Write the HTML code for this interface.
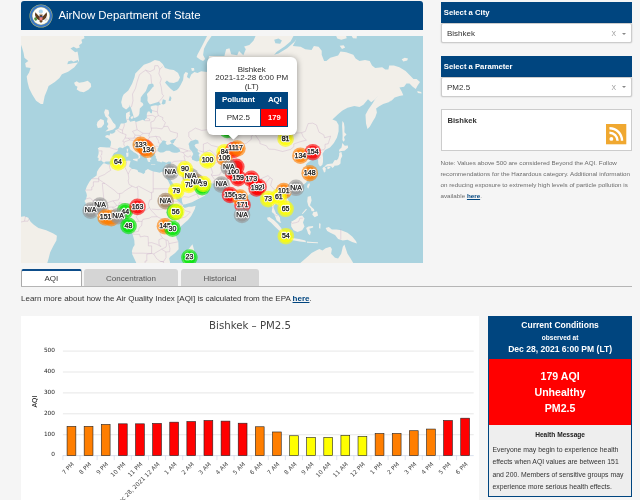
<!DOCTYPE html>
<html><head><meta charset="utf-8"><title>AirNow Department of State</title>
<style>
html,body{margin:0;padding:0}
body{width:640px;height:500px;overflow:hidden;background:#f5f5f5;font-family:"Liberation Sans",Arial,sans-serif;position:relative;color:#333}
.abs{position:absolute}
#hdr{left:21px;top:1.3px;width:402px;height:28.7px;background:#00457f;border-radius:3px 3px 0 0;color:#fff}
#hdr .t{position:absolute;left:37.4px;top:7.6px;font-size:11.43px;line-height:13px;white-space:nowrap}
#map{left:21px;top:36px;width:402px;height:227px;overflow:hidden;background:#aad3df}
#map svg text{font-family:"Liberation Sans",Arial,sans-serif;font-size:7px;text-anchor:middle;fill:#111;stroke:#111;stroke-width:.25px}
#map svg text.h{fill:#fff;stroke:#fff;stroke-width:2.3px;stroke-linejoin:round;opacity:.95}
#pop{left:206.5px;top:57px;width:90.5px;height:77.8px;background:#fff;border-radius:6px;box-shadow:0 1.4px 6px rgba(0,0,0,.4);font-size:8px;line-height:8.7px;text-align:center;color:#2a2a2a}
.sel-h{background:#00457f;color:#fff;font-weight:bold;font-size:7.7px;line-height:21.2px;padding-left:3.3px;box-sizing:border-box}
.sel-b{background:#fff;border:.5px solid #ccc;border-radius:2px;box-sizing:border-box;font-size:8px;line-height:20px;padding-left:5.5px;color:#333;box-shadow:0 0 1.5px rgba(0,0,0,.25)}
.sel-b .x{position:absolute;left:169.9px;top:0;font-size:6.8px;color:#999}
.sel-b .c{position:absolute;left:180.1px;top:8.7px;width:0;height:0;border-left:2.8px solid transparent;border-right:2.8px solid transparent;border-top:2.4px solid #888}
.tab{top:269px;height:17.5px;box-sizing:border-box;font-size:8px;line-height:19.5px;text-align:center;color:#555;background:#d5d5d5;border-radius:3px 3px 0 0}
</style></head><body>

<div id="hdr" class="abs">
<svg class="abs" style="left:8px;top:2.4px" width="24" height="24" viewBox="0 0 24 24">
<circle cx="12" cy="12" r="11.5" fill="#b5bb74"/><circle cx="12" cy="12" r="11" fill="#3a78c6"/>
<circle cx="12" cy="12" r="8.9" fill="#c4c68c"/><circle cx="12" cy="12" r="8.4" fill="#fdfdfb"/>
<circle cx="11.8" cy="7.6" r="2.1" fill="#a8d2ea"/>
<path d="M11.2 13.5L6.3 8.2l-.3 2.9 1 2.7 2 2 2.2.4zM12.8 13.5l4.9-5.3.3 2.9-1 2.7-2 2-2.2.4z" fill="#5d3c1c"/>
<path d="M10.6 10.2h2.8v7.2l-1.4 1.6-1.4-1.6z" fill="#6b4826"/>
<rect x="10.5" y="12.2" width="3" height="1.1" fill="#27458f"/><path d="M10.5 13.3h3v2.2l-1.5 1.2-1.5-1.2z" fill="#ec8080"/>
<circle cx="12" cy="9.8" r="1" fill="#e8e4d6"/>
<ellipse cx="6.6" cy="15" rx="1.3" ry="1.7" fill="#4f8f3c" transform="rotate(-30 6.6 15)"/>
<path d="M15.6 15.8l2.6-2.2M16 16.6l2.8-1.6" stroke="#999" stroke-width=".5"/>
</svg>
<div class="t">AirNow Department of State</div>
</div>

<div id="map" class="abs">
<svg width="402" height="227" viewBox="0 0 402 227" style="position:absolute;left:0;top:0">
<defs><filter id="bl" x="-5%" y="-5%" width="110%" height="110%"><feGaussianBlur stdDeviation=".45"/></filter></defs>
<g filter="url(#bl)">
<rect x="-5" y="-5" width="412" height="237" fill="#aad3df"/>
<path d="M-1.3,-0.9L62.8,-0.9L63.5,2.2L60.4,3.8L61.2,6.9L58.1,9.3L58.8,11.6L55.7,12.4L52.6,10.8L49.5,12.4L54.2,16.3L56.5,15.5L57.3,19.4L58.1,24.9L56.5,27.2L53.4,31.2L47.1,35.8L40.9,38.2L38.5,42.1L33.8,46.0L27.6,49.9L26.0,54.6L23.7,60.1L22.1,67.9L19.8,67.9L15.1,64.8L11.2,58.5L8.1,52.2L6.5,46.0L5.7,40.5L8.1,36.6L9.6,31.9L4.9,31.2L4.2,27.2L7.3,24.9L3.4,21.8L2.6,17.1L1.0,11.6L-1.3,5.4Z M53.1,46.8L55.7,45.2L58.1,46.8L62.8,46.0L66.7,44.8L69.8,47.6L70.2,50.7L67.4,53.8L62.8,56.2L58.8,55.4L55.7,53.5L56.5,50.7L54.2,49.4Z M84.3,73.2L87.4,74.0L88.2,77.1L87.4,79.5L89.8,82.6L92.1,86.5L94.5,88.8L94.8,91.2L92.1,93.5L87.4,95.1L84.3,95.6L87.4,92.8L85.9,90.4L87.4,88.1L85.9,85.7L86.7,82.6L84.3,80.2L83.1,76.3Z M76.5,85.7L79.6,83.1L82.8,84.2L83.1,88.1L80.4,91.5L76.8,92.0L75.7,88.8Z M-1.3,181.0L3.4,180.2L7.3,181.8L9.6,185.7L12.8,188.8L17.4,192.0L25.2,194.3L32.3,197.4L35.9,199.8L35.4,204.5L32.3,209.9L29.2,216.2L27.6,222.4L26.0,227.9L-1.3,227.9Z M105.4,73.7L101.5,70.9L100.2,66.2L101.5,60.7L102.6,58.5L107.3,54.6L111.2,47.6L113.5,41.3L114.3,37.4L119.0,32.7L122.9,28.8L129.2,26.5L133.8,24.1L138.5,24.9L141.7,28.0L144.0,31.9L148.7,33.5L152.8,34.0L157.1,37.1L159.0,41.5L157.1,45.2L152.8,47.1L148.4,46.5L145.9,44.6L144.0,46.5L146.5,49.6L149.6,52.8L152.8,55.2L155.9,54.0L157.8,52.1L159.6,49.0L162.1,44.0L162.8,38.4L164.6,35.9L167.1,37.1L165.9,40.9L168.4,42.8L170.2,38.4L173.4,35.9L176.5,37.1L180.2,35.2L185.9,35.9L188.0,20.0L203.4,20.1L205.1,13.2L208.5,12.3L210.2,18.3L216.2,19.2L218.0,14.9L222.3,19.2L224.8,13.2L223.1,10.6L228.3,8.9L232.6,4.6L235.2,-1.4L276.5,-1.7L274.2,5.4L271.8,10.1L279.6,10.8L284.3,13.2L290.6,14.0L292.9,10.1L297.6,10.8L300.7,14.8L300.7,18.7L303.1,24.9L305.4,24.9L309.3,21.8L317.1,19.4L319.5,15.5L325.2,16.3L332.3,18.7L334.6,22.6L338.5,24.9L344.0,24.1L348.7,24.9L351.0,29.6L354.2,31.9L361.2,31.2L364.3,33.5L367.4,33.5L368.2,29.6L372.9,29.6L378.4,31.2L384.6,35.1L389.3,39.8L392.4,42.9L395.6,42.9L399.0,46.0L396.3,49.9L394.8,53.0L391.7,50.7L388.5,47.6L385.4,47.6L383.1,50.7L378.4,51.5L380.7,55.4L382.3,59.3L378.4,60.1L373.7,61.6L369.0,66.3L370.8,64.0L367.6,66.3L362.2,67.9L358.2,70.2L355.1,72.6L355.9,76.5L354.3,81.2L352.0,85.1L348.9,90.6L346.5,92.9L345.0,87.4L344.5,78.8L347.3,73.4L351.2,67.9L353.6,64.0L357.3,59.3L354.0,63.2L350.3,66.3L347.0,63.2L342.4,68.7L338.5,71.0L333.3,70.0L326.5,71.8L321.5,74.5L317.3,78.0L311.4,83.5L315.3,85.1L317.6,89.0L317.6,95.3L316.0,101.5L312.9,107.0L309.0,111.5L304.0,114.0L301.5,117.8L302.0,121.5L302.0,126.0L301.3,129.0L299.0,130.6L297.3,128.0L297.0,123.4L295.5,120.0L292.8,119.1L289.4,117.9L287.8,121.0L288.8,117.2L285.0,119.3L282.3,121.2L283.9,123.8L287.1,123.4L289.9,124.6L286.6,126.8L284.7,129.0L287.3,133.2L288.9,136.6L288.8,139.8L287.0,142.5L285.2,146.5L282.6,148.6L280.5,150.7L276.5,152.3L272.9,153.3L270.5,154.1L270.0,155.7L269.2,153.6L266.9,153.5L264.3,155.3L262.9,157.9L264.0,160.4L266.8,162.9L268.4,167.1L268.4,169.9L264.8,172.2L261.6,174.9L261.3,172.8L258.4,171.2L257.5,169.5L255.0,167.2L253.5,168.7L252.7,172.0L254.1,175.2L255.1,177.8L257.2,179.0L259.0,181.7L259.2,184.9L260.3,186.7L258.8,186.7L255.6,184.3L254.1,180.2L253.2,178.0L250.8,176.0L251.1,172.8L251.2,169.5L249.8,164.6L249.5,162.1L247.0,162.1L245.9,163.3L244.3,162.9L244.6,159.9L243.0,157.1L240.9,154.8L240.2,152.3L238.1,152.8L235.7,153.3L232.5,154.0L231.7,156.2L229.2,157.4L224.9,161.8L221.5,163.8L221.6,167.6L220.8,171.2L219.9,173.9L218.2,174.8L217.1,175.9L215.2,173.0L213.1,168.7L211.5,164.6L209.8,160.4L209.5,157.9L209.4,154.5L209.0,152.4L208.2,154.5L206.3,154.8L203.4,152.3L205.5,151.0L202.6,150.2L200.5,147.9L199.3,146.8L195.3,147.0L191.2,147.4L187.2,146.8L184.5,146.1L183.6,143.8L179.9,144.7L176.7,142.9L173.9,140.3L172.6,138.1L170.7,137.9L169.4,138.5L170.2,141.3L172.6,144.5L173.0,146.3L174.6,145.6L175.2,147.5L176.7,148.9L179.1,149.1L182.4,146.6L183.0,145.2L183.3,148.4L186.6,150.0L188.5,151.9L186.9,155.3L185.1,157.9L184.0,159.6L180.7,161.3L176.2,163.6L171.0,166.3L164.6,168.2L162.1,168.4L161.0,165.4L160.8,162.3L158.1,157.9L155.2,153.6L153.2,149.3L150.8,145.8L148.4,142.2L148.2,139.4L147.1,142.5L145.2,140.3L144.4,138.5L144.5,140.3L146.1,143.1L147.6,145.8L149.2,149.3L151.6,153.6L152.1,157.1L154.1,159.6L155.7,163.8L158.4,166.3L161.7,168.7L161.8,170.4L163.8,172.0L167.8,170.8L171.0,170.7L174.6,169.7L173.9,172.8L172.3,176.0L170.2,180.1L167.0,184.1L163.8,186.8L160.5,189.7L158.1,192.1L156.5,194.5L155.7,196.9L154.9,199.3L155.7,202.6L157.3,205.8L157.5,209.9L157.6,213.2L154.1,217.0L149.2,220.7L148.1,222.5L149.0,225.9L149.2,232.0L115.2,232.0L115.2,226.8L113.6,223.3L111.2,218.2L110.9,214.9L112.0,211.5L113.6,209.1L113.3,204.2L111.7,198.7L110.9,196.6L107.8,192.9L106.0,190.0L107.2,188.1L107.5,185.2L107.5,182.6L105.5,181.7L103.1,181.8L101.5,182.0L99.1,178.8L97.3,178.6L93.7,179.1L90.2,180.6L88.6,181.2L85.3,180.6L79.7,181.8L77.2,180.9L74.3,178.8L71.6,176.9L70.3,174.4L67.5,171.2L65.0,168.7L64.6,167.1L63.5,165.1L65.1,162.9L65.9,159.6L65.4,157.1L64.3,154.5L65.9,150.2L68.4,145.8L70.8,142.7L73.2,141.3L75.6,139.4L76.0,135.7L78.1,132.3L82.1,127.4L83.2,127.2L86.9,128.4L90.2,128.4L91.8,127.2L96.7,125.4L99.9,125.4L104.4,125.0L107.6,124.4L109.6,125.0L108.9,127.4L108.0,130.4L109.3,131.5L111.2,133.1L113.1,133.1L116.4,134.0L117.3,136.1L120.1,136.8L122.5,137.9L124.1,136.6L124.1,134.8L126.9,133.1L129.3,134.2L132.2,135.5L135.5,136.1L138.7,136.8L140.3,136.1L141.9,135.5L144.0,136.1L146.5,136.5L147.3,136.1L148.1,134.4L148.4,132.9L149.2,131.1L149.7,129.0L149.9,127.0L150.3,125.8L149.2,125.8L147.7,125.4L145.2,126.8L143.5,126.0L141.4,125.4L140.3,126.6L138.7,125.8L137.1,125.6L135.9,125.0L135.8,123.0L134.7,122.0L135.1,120.4L134.2,119.9L134.3,118.7L133.8,117.2L131.4,117.0L130.6,118.7L128.8,117.9L128.3,119.9L129.0,121.0L130.6,123.0L129.0,124.0L129.2,126.0L128.0,126.0L126.9,125.4L126.2,123.4L125.9,122.4L125.3,121.2L124.1,119.5L123.2,117.9L123.3,115.7L122.8,114.7L121.7,113.6L119.3,112.0L117.7,111.2L116.4,109.8L115.2,107.6L114.1,108.3L113.8,106.7L111.7,107.4L111.9,109.6L113.8,111.4L114.8,113.6L117.8,114.9L119.1,116.6L121.7,118.9L119.6,118.1L118.6,119.5L119.5,121.0L118.5,122.4L117.2,123.1L117.3,122.0L117.7,121.0L117.2,118.9L116.1,118.3L114.9,117.2L112.8,116.2L111.5,115.1L109.6,113.8L108.8,112.5L108.3,110.5L106.4,109.4L104.7,110.5L103.6,110.9L101.5,112.3L99.9,111.6L98.3,111.4L96.8,112.5L97.0,114.0L96.7,115.1L95.4,115.9L93.1,117.0L91.3,119.9L92.1,121.4L90.8,123.0L90.5,123.8L88.6,125.4L84.7,125.6L83.1,126.8L81.6,125.8L80.5,124.6L77.4,125.0L77.6,122.0L76.4,121.4L77.4,118.5L77.7,116.4L77.4,113.6L76.8,112.3L78.9,110.9L82.9,111.2L85.7,111.4L88.9,111.6L89.7,109.2L90.0,106.7L89.9,105.3L88.2,103.2L86.9,102.0L84.7,101.5L84.2,100.1L86.1,99.1L88.6,99.6L89.2,97.2L90.0,97.7L92.0,97.4L94.2,95.9L94.4,93.9L97.0,92.9L98.3,91.3L99.2,89.0L99.9,87.6L103.1,87.4L105.5,86.6L106.0,85.2L105.2,83.0L104.9,80.2L105.1,77.3L107.6,75.8L108.9,75.2Z" fill="#f2efe9"/>
<path d="M57.8,26.5L51.8,27.2L46.3,28.3L47.1,25.4L50.2,24.4L52.6,25.7L56.8,24.1Z M108.9,75.2L108.6,78.7L109.4,79.6L108.0,81.6L107.6,83.6L109.3,85.8L111.2,85.2L113.6,84.7L114.8,86.0L118.0,84.9L121.7,83.8L123.8,84.7L124.1,83.3L125.8,81.9L125.8,77.9L126.7,75.8L128.3,75.2L129.8,77.3L130.8,77.3L131.3,74.3L129.8,72.5L129.6,70.6L131.7,69.7L134.7,69.3L137.1,69.7L140.0,68.2L138.7,67.1L138.2,65.8L135.5,66.5L132.2,67.4L129.0,68.4L127.4,66.8L126.4,64.8L126.6,61.5L125.9,58.0L128.7,55.1L131.4,51.4L132.9,50.3L132.2,48.0L130.8,47.6L127.4,48.4L126.2,51.4L124.9,55.1L121.7,58.7L119.8,61.5L119.6,64.8L119.6,65.8L121.7,67.1L122.4,69.0L121.1,70.3L118.8,72.5L118.5,75.8L118.3,78.1L117.3,79.9L114.9,81.6L112.8,81.9L112.3,79.6L111.2,75.8L109.9,71.8L109.1,70.3L108.9,68.4L108.5,70.6L107.2,71.8L104.7,74.0L103.1,74.3L105.5,75.5Z M137.1,115.3L136.4,113.1L138.0,110.7L138.2,108.7L139.8,107.4L141.6,104.6L143.2,104.4L145.6,105.5L144.5,107.1L146.0,108.9L148.1,108.5L150.8,107.6L148.9,105.1L152.4,103.2L155.2,103.0L153.6,105.1L152.8,106.9L151.3,107.4L152.0,108.3L153.2,109.2L156.0,111.2L158.1,112.7L159.1,114.2L158.9,115.7L156.0,116.8L153.2,116.8L150.8,116.2L148.4,114.7L145.2,114.7L142.7,116.2L141.1,116.6L139.0,116.4Z M168.6,112.9L168.1,109.8L167.5,108.0L169.4,105.3L171.8,104.4L174.6,103.4L177.2,104.4L177.8,107.4L174.8,108.0L173.5,109.2L174.6,111.4L176.9,113.6L176.7,115.7L178.8,117.2L177.5,118.9L178.3,120.6L179.0,124.4L175.9,125.4L173.1,124.4L171.0,123.4L171.0,120.6L172.3,117.9L170.7,115.1Z M278.1,-1.4L273.8,5.5L266.1,12.3L257.5,17.5L253.2,18.7L255.8,15.8L263.5,10.6L269.5,5.5L273.3,-1.4Z M253.2,3.7L257.5,2.5L260.9,4.6L259.2,7.7L254.4,7.3Z M140.6,68.1L141.9,63.2L144.8,64.2L144.4,67.4L142.7,68.4Z M147.6,64.8L148.9,59.7L150.5,62.1L149.7,65.1Z" fill="#aad3df"/>
<path d="M109.6,81.0L111.7,79.9L112.2,81.3L111.2,83.0L109.9,82.4Z M318.7,116.4L320.4,115.9L321.3,119.9L319.8,123.0L319.6,125.2L319.5,127.6L317.9,129.0L316.2,129.6L313.3,129.8L313.2,130.4L311.4,131.9L310.3,130.4L308.5,130.0L306.1,130.6L303.6,130.9L303.6,130.2L306.1,128.2L309.0,127.8L311.6,127.6L312.8,125.4L313.8,124.0L315.8,124.2L317.2,122.6L318.2,119.3L318.2,117.0Z M303.6,131.1L304.9,132.5L304.3,135.9L303.0,136.6L302.3,134.6L301.4,132.5L302.5,131.1Z M305.9,131.7L307.8,130.4L309.6,131.1L308.8,132.3L306.9,133.2Z M318.7,115.7L320.1,115.1L323.4,114.7L327.1,111.8L326.8,109.6L323.8,109.8L321.3,106.9L320.8,110.3L320.3,112.0L318.7,112.9L317.9,114.7Z M321.4,84.9L322.9,87.1L323.5,91.1L323.4,96.2L325.5,98.6L323.0,101.1L323.8,103.9L322.5,105.7L321.4,103.9L321.6,99.8L321.4,94.9L321.1,89.8Z M288.3,147.0L288.9,148.4L287.3,152.8L286.0,151.0L286.6,148.4Z M267.6,157.4L270.2,156.0L271.3,156.7L270.2,158.7L268.1,159.1Z M221.0,173.3L223.1,175.2L224.1,177.3L222.8,179.1L221.3,179.3L220.7,176.0Z M187.1,-2.2L182.8,6.5L179.6,12.8L176.5,18.4L175.6,20.9L179.0,23.4L182.1,24.9L184.2,23.0L182.1,19.0L183.0,12.8L186.2,6.5L189.6,1.5L192.1,-2.2Z M170.2,32.1L173.0,32.1L173.4,34.6L170.9,35.0Z M246.0,181.8L248.4,181.0L253.1,184.2L257.0,188.1L260.1,192.0L262.4,196.7L260.9,197.8L257.8,194.3L253.8,190.4L249.9,186.5L246.8,184.2Z M270.2,185.7L274.2,183.4L278.1,180.2L281.2,179.5L283.5,182.6L282.0,186.5L283.5,190.4L281.2,194.3L276.5,195.9L272.6,194.3L270.2,190.4Z M285.1,192.0L287.4,190.4L292.1,189.9L292.1,191.5L288.2,192.8L289.8,195.9L289.0,199.3L287.1,197.8L286.3,195.1Z M269.5,201.8L278.1,202.9L284.3,204.5L285.1,206.2L278.8,205.6L270.2,204.0Z M285.9,205.6L291.3,205.9L296.8,206.2L297.1,207.3L291.3,207.1L285.9,206.8Z M286.7,160.7L289.8,159.9L290.6,164.6L289.0,169.3L292.1,172.4L290.9,173.5L287.4,170.1L286.2,165.4Z M292.1,176.3L296.0,175.6L297.1,179.5L293.7,181.3L291.3,178.7Z M289.8,172.4L292.9,172.8L293.4,175.2L290.6,175.2Z M280.9,177.4L285.1,172.8L285.9,173.4L281.7,178.1Z M304.6,192.0L307.8,190.9L310.9,193.5L315.6,193.5L320.2,194.3L326.5,196.7L331.2,200.6L335.1,205.2L335.9,207.6L331.2,206.0L326.5,203.7L321.8,204.5L317.1,202.9L314.0,199.0L309.3,196.7L306.2,195.1Z M298.1,187.3L299.6,187.8L299.3,192.8L298.1,192.0Z M278.1,227.9L282.8,224.0L287.4,220.1L290.6,217.0L295.2,214.6L298.4,213.1L301.5,214.6L304.6,212.3L309.3,210.7L310.9,213.1L310.1,217.8L314.0,221.7L317.1,222.4L320.2,217.8L321.8,210.7L323.4,208.4L324.9,213.1L326.5,217.8L329.6,222.4L332.8,227.9Z M171.5,208.3L173.1,214.0L171.8,217.4L170.2,223.3L168.6,231.2L162.9,231.2L162.1,225.0L163.4,220.7L163.4,215.4L167.0,214.0L169.4,210.7Z M111.9,123.0L116.9,122.6L116.4,125.6L112.2,124.0Z M105.1,116.8L107.5,116.6L107.3,120.6L105.5,121.0Z M105.7,112.7L107.2,112.7L107.0,115.7L105.9,115.5Z M130.0,128.0L134.3,128.4L134.2,129.0L130.0,128.6Z M144.0,129.0L147.6,127.8L146.8,129.2L144.8,129.8Z M380.7,23.3L383.8,21.8L387.0,22.6L386.2,24.4L382.3,25.4Z M314.8,-0.9L324.9,-0.9L325.7,2.2L320.2,3.8L316.3,2.6Z M318.7,9.8L322.6,9.3L324.2,11.6L321.0,12.9Z M330.4,-0.6L335.9,-0.6L335.6,2.6L332.0,2.2Z M396.3,55.1L400.2,56.0L400.6,57.6L396.8,56.9Z" fill="#f2efe9"/>
<path d="M110.4,71.2L112.0,64.8L111.5,58.0L114.4,52.6L116.1,46.0L118.5,38.6L121.2,36.5L124.6,34.2L129.0,35.6L133.4,33.4L133.8,29.7L137.1,29.7L138.7,33.4L141.6,30.6 M124.6,34.2L129.8,39.0L130.6,47.6 M138.7,33.4L137.9,37.8L140.3,42.8L139.0,46.8L140.3,51.4L141.1,58.0L142.7,59.7L139.8,63.8L136.8,66.5 M137.1,69.7L136.3,75.8L137.4,79.6L134.8,81.0L133.0,84.9L129.8,86.0L130.0,91.1L130.6,94.2L128.5,97.4L127.7,100.1 M137.4,79.6L141.9,81.6L141.6,83.6L144.4,86.6L142.7,90.6L146.8,90.3L149.2,95.2L153.2,96.4L156.5,97.2L156.2,101.3L153.6,103.2 M130.0,92.1L135.5,92.1L141.1,92.9L142.7,90.6 M125.8,82.2L128.7,83.0L128.7,84.7L123.8,84.7 M125.8,79.9L131.4,79.3L134.8,81.0 M131.3,74.6L136.3,75.8 M114.8,86.0L115.6,91.1L116.1,93.7L111.5,95.4L114.1,99.1L119.3,99.6L122.2,97.4L128.5,97.4 M116.1,93.7L122.2,97.4 M105.1,98.6L101.7,97.4L101.5,94.2L103.1,90.3L103.4,87.6 M101.7,97.4L98.6,96.2L95.8,93.4 M97.3,92.6L101.5,94.2 M105.1,98.6L104.1,102.0L107.3,102.2L112.8,102.2L114.1,99.1 M112.8,102.2L119.3,101.1L119.3,99.6 M104.1,102.0L101.7,105.3L103.1,106.0L102.8,108.5L103.9,110.7 M103.1,106.0L108.8,103.9L114.0,104.6L113.8,106.7 M107.3,102.2L108.8,103.9 M88.9,111.6L92.9,112.9L97.0,113.8 M77.6,114.9L81.1,114.9L80.6,118.9L79.7,119.7L80.5,122.6L79.8,124.6 M105.7,83.3L107.6,83.6 M119.3,101.1L118.5,104.6L122.5,105.7L125.8,105.3L128.8,101.1L127.7,100.1 M114.0,104.6L118.5,104.6 M113.8,106.9L116.9,106.7L122.5,105.7 M122.5,108.0L117.3,107.6L118.5,110.3L120.3,112.5L121.7,113.6 M122.5,105.7L122.5,108.0L123.2,110.3L123.3,112.5L124.6,113.6L123.2,114.9 M125.8,105.3L128.2,109.2L128.5,110.7L133.0,110.9L135.5,110.1L138.0,110.9 M128.8,101.1L134.8,100.3L137.4,104.6L137.4,106.9L139.7,107.4 M134.8,100.3L139.0,101.1L140.5,104.8 M128.5,110.7L128.0,114.0L129.0,116.2L134.3,115.3L134.8,116.2L133.8,117.2 M134.3,115.3L137.1,114.7 M123.2,114.9L124.9,116.8L125.8,117.2L129.0,116.2 M124.1,119.5L125.8,117.2 M124.6,113.6L128.0,114.0 M158.9,115.7L162.1,116.6L164.2,119.5L162.9,120.2L164.2,124.6L160.4,124.8L153.2,125.4L150.3,127.0 M156.5,111.6L161.3,112.7L167.0,114.9L170.4,115.1 M162.1,116.6L167.0,114.9 M164.2,119.5L167.0,121.2L169.4,119.7L170.9,122.2 M164.2,124.6L166.2,127.4L165.4,130.9L169.1,134.8L170.2,138.5 M179.0,124.4L184.0,122.6L190.8,125.8L189.8,130.9L191.7,136.6L190.3,138.9L193.7,143.6L191.4,147.2 M160.4,124.8L158.1,130.2L154.5,132.1L154.9,134.8L157.1,135.0L164.1,140.0L167.0,140.2L169.4,139.4 M167.0,140.2L168.9,141.3L170.2,141.3 M161.0,162.3L162.9,160.6L167.8,161.3L175.9,157.9L180.7,156.2L181.7,152.8L181.1,151.6L176.9,151.2L175.2,148.9 M175.9,157.9L177.7,161.9 M181.1,151.6L182.4,149.3L182.8,146.5 M148.4,139.4L151.6,138.7L153.2,137.6L151.6,135.7L154.9,134.8 M149.4,133.4L151.3,134.2L154.5,132.1 M147.3,136.1L148.2,139.4 M149.4,133.4L149.2,135.7L148.4,139.4 M148.6,132.7L149.7,132.3L151.0,130.6L150.0,129.8 M171.0,104.6L167.8,100.6L167.8,96.2L170.5,94.7L174.3,92.1L180.7,94.4L186.7,93.7L191.2,93.7L189.1,87.1L190.8,85.8L196.9,84.4L203.4,82.2L206.6,85.2L210.6,85.8L216.0,84.9L217.8,87.6L221.2,94.2L226.8,93.7L230.1,97.2L233.0,98.1 M233.0,98.1L230.4,100.1L230.4,103.2L225.2,107.4L221.6,108.0L221.5,114.2 M182.4,108.0L186.6,106.7L190.4,109.4L196.7,110.9L198.5,114.7L201.8,116.8L205.8,114.4L206.6,113.4L210.6,112.5L212.6,112.0L219.5,112.9L221.5,114.2 M177.5,114.4L182.4,116.2L182.4,108.0 M182.4,116.2L184.0,116.2L188.8,114.2L191.9,116.4L196.1,121.0L199.3,124.2 M190.8,127.8L196.1,126.4L199.3,124.2L201.8,125.0L205.0,123.0L207.4,123.0L207.6,125.4L212.3,124.6 M221.5,114.2L214.7,118.1L211.1,119.7L212.3,124.6 M201.8,116.8L205.8,118.5L211.1,119.7 M201.8,116.8L200.9,119.9L201.8,125.0 M212.3,124.6L206.6,127.0L206.9,130.9L204.2,132.9L203.9,135.0L199.3,136.8L198.8,138.9L192.9,139.6L190.3,138.9 M202.1,149.8L206.6,148.4L204.3,144.0L208.1,142.2L211.3,138.5L212.4,136.6L211.9,133.2L217.6,128.0 M212.3,124.6L217.6,128.0L219.5,133.8L222.8,138.1L227.6,140.7L234.3,142.3L235.4,143.4L240.6,142.5L247.0,139.6L249.1,141.6 M222.8,138.1L221.3,140.7L226.0,143.2L230.5,144.7L234.3,145.0L234.3,142.3 M235.4,143.4L237.0,144.5L240.6,144.3L240.6,142.5 M234.3,145.0L235.4,148.8L235.7,152.8 M234.3,145.0L237.0,145.8L241.2,147.5L240.9,149.8L239.3,149.8L241.0,154.5 M249.1,141.6L245.7,145.8L244.8,148.1L242.7,149.3L242.8,152.8L241.0,154.5 M249.1,141.6L251.4,143.1L249.6,149.3L252.2,152.8L255.4,154.1L253.7,155.7L250.3,156.7L249.3,158.7L251.2,162.4L250.6,164.6L252.2,167.9L252.9,169.9L251.4,172.5 M255.4,154.1L257.1,151.9L262.1,150.5L264.3,151.4L266.4,153.6 M257.1,151.9L260.0,155.5L260.9,156.9L261.9,158.4L264.2,161.4L265.8,164.6L265.8,165.4 M253.7,155.7L255.4,157.1L255.3,160.4L256.9,159.8L260.0,159.1L261.3,162.1L262.6,164.1L263.0,165.8L265.8,165.4 M262.6,165.8L258.4,165.9L257.4,166.9L258.2,170.0 M265.8,165.4L265.6,169.1L263.2,171.2L260.8,172.2 M253.7,178.5L255.3,179.8L256.9,179.0 M269.0,185.7L271.3,187.3L274.5,186.7L277.6,185.7L278.9,182.2L281.8,182.2 M319.8,193.1L319.8,203.5 M233.8,98.1L238.9,105.7L238.9,107.6L245.4,109.8L247.7,113.1L253.5,113.4L261.6,115.5L269.7,113.4L272.9,110.7L272.7,108.0L279.4,105.7L285.4,104.1L282.3,101.1L280.5,96.7 M233.8,98.1L240.6,94.2L250.3,96.2L250.8,91.1L257.1,92.9L258.4,95.4L264.8,96.2L274.5,97.2L280.5,96.7 M280.5,96.7L284.4,95.4L287.1,87.6L291.7,87.1L295.5,89.0L298.0,96.2L302.8,98.9L303.6,101.8L309.6,100.1L307.2,107.8L304.0,108.3L304.1,111.6L303.0,113.8 M303.0,113.8L301.5,113.8L298.8,114.7L297.0,115.1L295.5,117.0L292.8,119.1 M296.7,123.4L299.4,121.8 M88.2,128.8L89.1,132.9L89.9,134.2L86.0,136.6L83.7,138.5L77.7,140.9L77.7,143.4 M70.8,142.7L77.7,142.7L77.7,145.8L72.4,145.8L72.4,150.3L70.8,151.0L70.8,154.0L64.3,154.0 M77.7,143.4L84.0,147.5L93.4,154.3L97.0,157.7L98.6,157.6L101.2,157.1L103.9,154.8L111.2,150.2L108.0,148.4L107.2,144.9L107.8,142.2L107.2,138.1L105.2,133.8L103.9,131.3L105.2,129.0L105.7,125.2 M107.2,138.1L108.5,135.3L110.4,132.5 M132.2,135.5L132.2,152.8L151.5,152.8 M132.2,152.8L132.2,156.2L130.6,156.2L130.6,157.1L117.7,150.2L116.1,151.0L114.8,151.7L111.2,150.2 M130.6,157.1L130.6,163.4L128.8,163.8L127.4,167.9L128.2,171.2L130.1,174.4L131.6,175.7L136.1,180.7 M116.1,151.0L116.9,154.5L117.0,161.4L113.6,166.3L113.8,166.7L108.0,167.6L103.1,167.9L98.3,166.7L97.6,170.0 M98.6,157.6L98.6,161.4L97.5,163.9L93.4,164.6L92.1,164.8L88.6,165.9L84.7,167.6L82.9,172.2L78.9,172.5L78.1,170.4L73.4,168.9L72.1,164.9 M84.0,147.5L81.3,147.5L82.9,163.8L76.4,163.9L73.2,163.6L72.1,164.9L69.2,161.9L65.1,162.9 M87.4,180.7L86.6,178.0L87.4,173.6L87.1,171.2 M93.7,179.1L92.6,176.9L92.4,173.6L91.8,171.0 M96.2,178.6L96.3,174.4L97.6,170.0 M82.9,172.2L87.1,171.2L91.8,171.0L93.3,171.2L95.7,169.5L97.6,170.0 M92.1,164.8L95.7,169.5 M70.3,174.4L74.5,175.6L73.2,177.8 M79.7,181.8L78.2,178.6L78.4,176.7L78.9,172.5 M74.5,175.6L78.4,176.7 M73.4,168.9L69.6,168.6L67.5,171.2 M64.8,168.9L72.4,168.9 M105.5,181.7L106.8,178.5L110.7,177.7L113.1,172.8L114.8,168.9L114.6,167.7 M114.8,168.9L116.1,172.8L114.4,173.0L116.9,176.9L115.2,180.9L118.0,185.4 M116.9,176.9L121.9,176.0L124.8,174.3L128.8,171.3 M136.1,180.7L130.6,180.9L128.0,182.3L121.9,183.3L121.1,185.4L120.6,189.7L118.0,192.1L117.5,195.3L112.8,196.3L111.5,198.2 M107.6,185.2L113.3,185.4L118.0,185.4L121.1,185.4 M113.3,185.4L115.1,188.9L115.1,192.1L110.9,195.0L109.9,195.3 M107.6,187.3L110.1,187.3L110.1,185.2 M151.5,152.8L151.6,159.6L154.1,159.6 M151.6,159.6L150.7,164.6L150.8,168.4L148.4,171.2L146.9,175.1L145.2,176.4L148.9,180.2L146.8,182.2L141.6,183.3L136.1,180.7 M130.6,173.1L137.1,173.6L145.2,172.8L146.9,173.6 M150.8,165.8L153.2,165.1L156.5,165.4L160.4,168.7L161.5,168.4 M160.4,168.7L159.4,171.2L161.0,171.3L161.8,170.4 M161.0,171.3L164.6,174.9L169.4,176.0L164.6,180.9L159.7,182.2L158.1,182.6L158.1,190.5L159.1,191.6 M148.9,180.2L150.0,181.7L153.2,183.1L158.1,182.6 M146.8,182.2L148.4,186.0L146.8,188.9L146.8,190.5L152.8,193.9L155.2,196.4 M141.6,183.3L142.4,185.4L139.8,188.9L139.7,191.1L141.1,190.5L146.8,190.5 M139.7,191.1L138.7,193.4L139.3,196.0L139.3,198.5L141.6,202.1L137.9,203.7L138.0,208.3L140.0,210.7L135.8,208.3L130.6,206.6L127.4,207.0L127.4,209.9L130.6,209.9L130.6,217.4 M141.6,202.1L145.0,204.0L146.8,204.2L148.2,207.6L157.1,205.8 M145.0,204.0L145.5,209.1L145.0,211.1L140.6,213.2L145.0,216.0L148.7,215.7L148.9,212.4L147.6,207.4 M140.6,213.2L132.7,217.9L130.6,217.4L125.8,218.2L125.8,225.0L124.1,225.0L124.1,230.3 M132.7,217.9L135.5,222.5L139.3,225.4L142.4,225.7L145.0,221.6L144.8,216.0 M111.5,198.2L118.6,198.4L119.3,200.9L123.3,200.1L127.1,200.6L127.4,207.0 M110.9,217.0L114.4,217.2L121.7,217.2L129.6,217.5L130.6,217.4 M139.3,225.4L142.4,225.7L143.5,230.3 M8.4,182.2L6.9,185.2L3.5,185.2L4.5,180.1 M3.5,185.2L0.4,185.9L-2.0,186.5L-4.9,186.8L-5.2,180.9L-0.7,179.3" fill="none" stroke="#c4a2c4" stroke-width=".45" stroke-opacity=".75"/>
</g>
<g>
<circle cx="206.2" cy="93.9" r="8.3" fill="#00e400" fill-opacity=".62"/><circle cx="206.2" cy="93.9" r="6.4" fill="#00e400" fill-opacity=".72"/>
<circle cx="97.0" cy="126.4" r="8.3" fill="#ffff00" fill-opacity=".62"/><circle cx="97.0" cy="126.4" r="6.4" fill="#ffff00" fill-opacity=".72"/>
<circle cx="124.3" cy="111.6" r="8.3" fill="#ff0000" fill-opacity=".62"/><circle cx="124.3" cy="111.6" r="6.4" fill="#ff0000" fill-opacity=".72"/>
<circle cx="119.8" cy="108.9" r="8.3" fill="#ff7e00" fill-opacity=".62"/><circle cx="119.8" cy="108.9" r="6.4" fill="#ff7e00" fill-opacity=".72"/>
<circle cx="126.3" cy="113.8" r="8.3" fill="#ff7e00" fill-opacity=".62"/><circle cx="126.3" cy="113.8" r="6.4" fill="#ff7e00" fill-opacity=".72"/>
<circle cx="149.6" cy="135.9" r="8.3" fill="#949494" fill-opacity=".62"/><circle cx="149.6" cy="135.9" r="6.4" fill="#949494" fill-opacity=".72"/>
<circle cx="169.6" cy="140.2" r="8.3" fill="#949494" fill-opacity=".62"/><circle cx="169.6" cy="140.2" r="6.4" fill="#949494" fill-opacity=".72"/>
<circle cx="164.0" cy="133.4" r="8.3" fill="#ffff00" fill-opacity=".62"/><circle cx="164.0" cy="133.4" r="6.4" fill="#ffff00" fill-opacity=".72"/>
<circle cx="175.3" cy="145.9" r="8.3" fill="#a08060" fill-opacity=".62"/><circle cx="175.3" cy="145.9" r="6.4" fill="#a08060" fill-opacity=".72"/>
<circle cx="181.1" cy="151.1" r="8.3" fill="#00e400" fill-opacity=".62"/><circle cx="181.1" cy="151.1" r="6.4" fill="#00e400" fill-opacity=".72"/>
<circle cx="182.3" cy="148.0" r="8.3" fill="#ffff00" fill-opacity=".62"/><circle cx="182.3" cy="148.0" r="6.4" fill="#ffff00" fill-opacity=".72"/>
<circle cx="167.8" cy="149.0" r="8.3" fill="#ffff00" fill-opacity=".62"/><circle cx="167.8" cy="149.0" r="6.4" fill="#ffff00" fill-opacity=".72"/>
<circle cx="155.3" cy="155.2" r="8.3" fill="#ffff00" fill-opacity=".62"/><circle cx="155.3" cy="155.2" r="6.4" fill="#ffff00" fill-opacity=".72"/>
<circle cx="144.6" cy="165.1" r="8.3" fill="#a08060" fill-opacity=".62"/><circle cx="144.6" cy="165.1" r="6.4" fill="#a08060" fill-opacity=".72"/>
<circle cx="153.8" cy="176.2" r="8.3" fill="#00e400" fill-opacity=".62"/><circle cx="153.8" cy="176.2" r="6.4" fill="#00e400" fill-opacity=".72"/>
<circle cx="155.2" cy="175.8" r="8.3" fill="#ffff00" fill-opacity=".62"/><circle cx="155.2" cy="175.8" r="6.4" fill="#ffff00" fill-opacity=".72"/>
<circle cx="144.0" cy="190.2" r="8.3" fill="#ff7e00" fill-opacity=".62"/><circle cx="144.0" cy="190.2" r="6.4" fill="#ff7e00" fill-opacity=".72"/>
<circle cx="151.5" cy="192.7" r="8.3" fill="#00e400" fill-opacity=".62"/><circle cx="151.5" cy="192.7" r="6.4" fill="#00e400" fill-opacity=".72"/>
<circle cx="168.4" cy="221.6" r="8.3" fill="#00e400" fill-opacity=".62"/><circle cx="168.4" cy="221.6" r="6.4" fill="#00e400" fill-opacity=".72"/>
<circle cx="79.0" cy="169.6" r="8.3" fill="#949494" fill-opacity=".62"/><circle cx="79.0" cy="169.6" r="6.4" fill="#949494" fill-opacity=".72"/>
<circle cx="69.6" cy="174.6" r="8.3" fill="#949494" fill-opacity=".62"/><circle cx="69.6" cy="174.6" r="6.4" fill="#949494" fill-opacity=".72"/>
<circle cx="84.6" cy="181.5" r="8.3" fill="#ff7e00" fill-opacity=".62"/><circle cx="84.6" cy="181.5" r="6.4" fill="#ff7e00" fill-opacity=".72"/>
<circle cx="90.3" cy="182.1" r="8.3" fill="#ff7e00" fill-opacity=".62"/><circle cx="90.3" cy="182.1" r="6.4" fill="#ff7e00" fill-opacity=".72"/>
<circle cx="104.0" cy="175.2" r="8.3" fill="#00e400" fill-opacity=".62"/><circle cx="104.0" cy="175.2" r="6.4" fill="#00e400" fill-opacity=".72"/>
<circle cx="97.1" cy="180.2" r="8.3" fill="#949494" fill-opacity=".62"/><circle cx="97.1" cy="180.2" r="6.4" fill="#949494" fill-opacity=".72"/>
<circle cx="116.5" cy="170.9" r="8.3" fill="#ff0000" fill-opacity=".62"/><circle cx="116.5" cy="170.9" r="6.4" fill="#ff0000" fill-opacity=".72"/>
<circle cx="107.5" cy="189.9" r="8.3" fill="#00e400" fill-opacity=".62"/><circle cx="107.5" cy="189.9" r="6.4" fill="#00e400" fill-opacity=".72"/>
<circle cx="186.5" cy="124.4" r="8.3" fill="#ffff00" fill-opacity=".62"/><circle cx="186.5" cy="124.4" r="6.4" fill="#ffff00" fill-opacity=".72"/>
<circle cx="203.6" cy="116.2" r="8.3" fill="#ffff00" fill-opacity=".62"/><circle cx="203.6" cy="116.2" r="6.4" fill="#ffff00" fill-opacity=".72"/>
<circle cx="212.5" cy="114.0" r="8.3" fill="#ff0000" fill-opacity=".62"/><circle cx="212.5" cy="114.0" r="6.4" fill="#ff0000" fill-opacity=".72"/>
<circle cx="216.4" cy="112.5" r="8.3" fill="#ff7e00" fill-opacity=".62"/><circle cx="216.4" cy="112.5" r="6.4" fill="#ff7e00" fill-opacity=".72"/>
<circle cx="203.4" cy="121.9" r="8.3" fill="#ff7e00" fill-opacity=".62"/><circle cx="203.4" cy="121.9" r="6.4" fill="#ff7e00" fill-opacity=".72"/>
<circle cx="215.3" cy="130.8" r="8.3" fill="#ff0000" fill-opacity=".62"/><circle cx="215.3" cy="130.8" r="6.4" fill="#ff0000" fill-opacity=".72"/>
<circle cx="212.1" cy="136.5" r="8.3" fill="#ff0000" fill-opacity=".62"/><circle cx="212.1" cy="136.5" r="6.4" fill="#ff0000" fill-opacity=".72"/>
<circle cx="207.8" cy="131.5" r="8.3" fill="#949494" fill-opacity=".62"/><circle cx="207.8" cy="131.5" r="6.4" fill="#949494" fill-opacity=".72"/>
<circle cx="217.1" cy="142.1" r="8.3" fill="#ff0000" fill-opacity=".62"/><circle cx="217.1" cy="142.1" r="6.4" fill="#ff0000" fill-opacity=".72"/>
<circle cx="230.3" cy="142.9" r="8.3" fill="#ff0000" fill-opacity=".62"/><circle cx="230.3" cy="142.9" r="6.4" fill="#ff0000" fill-opacity=".72"/>
<circle cx="237.6" cy="151.0" r="8.3" fill="#ff0000" fill-opacity=".62"/><circle cx="237.6" cy="151.0" r="6.4" fill="#ff0000" fill-opacity=".72"/>
<circle cx="235.6" cy="152.4" r="8.3" fill="#ff0000" fill-opacity=".62"/><circle cx="235.6" cy="152.4" r="6.4" fill="#ff0000" fill-opacity=".72"/>
<circle cx="200.5" cy="148.6" r="8.3" fill="#949494" fill-opacity=".62"/><circle cx="200.5" cy="148.6" r="6.4" fill="#949494" fill-opacity=".72"/>
<circle cx="209.0" cy="159.0" r="8.3" fill="#ff0000" fill-opacity=".62"/><circle cx="209.0" cy="159.0" r="6.4" fill="#ff0000" fill-opacity=".72"/>
<circle cx="221.5" cy="169.0" r="8.3" fill="#ff0000" fill-opacity=".62"/><circle cx="221.5" cy="169.0" r="6.4" fill="#ff0000" fill-opacity=".72"/>
<circle cx="219.0" cy="161.5" r="8.3" fill="#ff7e00" fill-opacity=".62"/><circle cx="219.0" cy="161.5" r="6.4" fill="#ff7e00" fill-opacity=".72"/>
<circle cx="221.0" cy="179.0" r="8.3" fill="#949494" fill-opacity=".62"/><circle cx="221.0" cy="179.0" r="6.4" fill="#949494" fill-opacity=".72"/>
<circle cx="262.8" cy="155.0" r="8.3" fill="#ff7e00" fill-opacity=".62"/><circle cx="262.8" cy="155.0" r="6.4" fill="#ff7e00" fill-opacity=".72"/>
<circle cx="247.1" cy="163.1" r="8.3" fill="#ffff00" fill-opacity=".62"/><circle cx="247.1" cy="163.1" r="6.4" fill="#ffff00" fill-opacity=".72"/>
<circle cx="257.8" cy="160.9" r="8.3" fill="#ffff00" fill-opacity=".62"/><circle cx="257.8" cy="160.9" r="6.4" fill="#ffff00" fill-opacity=".72"/>
<circle cx="275.0" cy="151.8" r="8.3" fill="#949494" fill-opacity=".62"/><circle cx="275.0" cy="151.8" r="6.4" fill="#949494" fill-opacity=".72"/>
<circle cx="264.6" cy="172.8" r="8.3" fill="#ffff00" fill-opacity=".62"/><circle cx="264.6" cy="172.8" r="6.4" fill="#ffff00" fill-opacity=".72"/>
<circle cx="264.8" cy="200.2" r="8.3" fill="#ffff00" fill-opacity=".62"/><circle cx="264.8" cy="200.2" r="6.4" fill="#ffff00" fill-opacity=".72"/>
<circle cx="264.6" cy="102.7" r="8.3" fill="#ffff00" fill-opacity=".62"/><circle cx="264.6" cy="102.7" r="6.4" fill="#ffff00" fill-opacity=".72"/>
<circle cx="279.4" cy="119.7" r="8.3" fill="#ff7e00" fill-opacity=".62"/><circle cx="279.4" cy="119.7" r="6.4" fill="#ff7e00" fill-opacity=".72"/>
<circle cx="291.8" cy="116.2" r="8.3" fill="#ff0000" fill-opacity=".62"/><circle cx="291.8" cy="116.2" r="6.4" fill="#ff0000" fill-opacity=".72"/>
<circle cx="288.7" cy="137.2" r="8.3" fill="#ff7e00" fill-opacity=".62"/><circle cx="288.7" cy="137.2" r="6.4" fill="#ff7e00" fill-opacity=".72"/>
<text class="h" x="97.0" y="128.2">64</text><text x="97.0" y="128.2">64</text>
<text class="h" x="119.8" y="110.7">133</text><text x="119.8" y="110.7">133</text>
<text class="h" x="127.3" y="115.9">134</text><text x="127.3" y="115.9">134</text>
<text class="h" x="149.6" y="137.7">N/A</text><text x="149.6" y="137.7">N/A</text>
<text class="h" x="169.6" y="142.0">N/A</text><text x="169.6" y="142.0">N/A</text>
<text class="h" x="164.0" y="135.2">90</text><text x="164.0" y="135.2">90</text>
<text class="h" x="182.3" y="149.8">59</text><text x="182.3" y="149.8">59</text>
<text class="h" x="167.8" y="150.8">78</text><text x="167.8" y="150.8">78</text>
<text class="h" x="175.3" y="147.7">N/A</text><text x="175.3" y="147.7">N/A</text>
<text class="h" x="155.3" y="157.0">79</text><text x="155.3" y="157.0">79</text>
<text class="h" x="144.6" y="166.9">N/A</text><text x="144.6" y="166.9">N/A</text>
<text class="h" x="154.7" y="177.6">56</text><text x="154.7" y="177.6">56</text>
<text class="h" x="144.0" y="192.0">145</text><text x="144.0" y="192.0">145</text>
<text class="h" x="151.5" y="194.5">30</text><text x="151.5" y="194.5">30</text>
<text class="h" x="168.4" y="223.4">23</text><text x="168.4" y="223.4">23</text>
<text class="h" x="79.0" y="171.4">N/A</text><text x="79.0" y="171.4">N/A</text>
<text class="h" x="69.6" y="176.4">N/A</text><text x="69.6" y="176.4">N/A</text>
<text class="h" x="84.6" y="183.3">151</text><text x="84.6" y="183.3">151</text>
<text class="h" x="104.2" y="177.8">44</text><text x="104.2" y="177.8">44</text>
<text class="h" x="97.1" y="182.0">N/A</text><text x="97.1" y="182.0">N/A</text>
<text class="h" x="116.5" y="172.7">163</text><text x="116.5" y="172.7">163</text>
<text class="h" x="107.5" y="191.7">48</text><text x="107.5" y="191.7">48</text>
<text class="h" x="186.5" y="126.2">100</text><text x="186.5" y="126.2">100</text>
<text class="h" x="203.6" y="118.0">84</text><text x="203.6" y="118.0">84</text>
<text class="h" x="214.6" y="114.3">1117</text><text x="214.6" y="114.3">1117</text>
<text class="h" x="203.4" y="123.7">106</text><text x="203.4" y="123.7">106</text>
<text class="h" x="212.1" y="138.3">160</text><text x="212.1" y="138.3">160</text>
<text class="h" x="207.8" y="133.3">N/A</text><text x="207.8" y="133.3">N/A</text>
<text class="h" x="217.1" y="143.9">159</text><text x="217.1" y="143.9">159</text>
<text class="h" x="230.3" y="144.7">173</text><text x="230.3" y="144.7">173</text>
<text class="h" x="237.6" y="152.8">138</text><text x="237.6" y="152.8">138</text>
<text class="h" x="235.6" y="154.2">192</text><text x="235.6" y="154.2">192</text>
<text class="h" x="200.5" y="150.4">N/A</text><text x="200.5" y="150.4">N/A</text>
<text class="h" x="209.0" y="160.8">156</text><text x="209.0" y="160.8">156</text>
<text class="h" x="221.5" y="170.8">171</text><text x="221.5" y="170.8">171</text>
<text class="h" x="219.0" y="163.3">132</text><text x="219.0" y="163.3">132</text>
<text class="h" x="221.0" y="180.8">N/A</text><text x="221.0" y="180.8">N/A</text>
<text class="h" x="262.8" y="156.8">101</text><text x="262.8" y="156.8">101</text>
<text class="h" x="247.1" y="164.9">73</text><text x="247.1" y="164.9">73</text>
<text class="h" x="257.8" y="162.7">61</text><text x="257.8" y="162.7">61</text>
<text class="h" x="275.0" y="153.6">N/A</text><text x="275.0" y="153.6">N/A</text>
<text class="h" x="264.6" y="174.6">65</text><text x="264.6" y="174.6">65</text>
<text class="h" x="264.8" y="202.0">54</text><text x="264.8" y="202.0">54</text>
<text class="h" x="264.6" y="104.5">81</text><text x="264.6" y="104.5">81</text>
<text class="h" x="279.4" y="121.5">134</text><text x="279.4" y="121.5">134</text>
<text class="h" x="291.8" y="118.0">154</text><text x="291.8" y="118.0">154</text>
<text class="h" x="288.7" y="139.0">148</text><text x="288.7" y="139.0">148</text>
</g>
</svg>
</div>

<div id="pop" class="abs">
<div style="position:absolute;left:0;right:0;top:8.7px">Bishkek<br>2021-12-28 6:00 PM<br>(LT)</div>
<div style="position:absolute;left:8.7px;top:35px;width:73.1px;height:16.6px;background:#00457f;color:#fff;font-weight:bold;font-size:8px;line-height:16.2px;letter-spacing:-.15px">
<span style="position:absolute;left:0;width:46.5px;text-align:center">Pollutant</span><span style="position:absolute;left:46.2px;width:26.9px;text-align:center">AQI</span></div>
<div style="position:absolute;left:8.7px;top:51.6px;width:46.2px;height:18.2px;box-sizing:border-box;border:.7px solid #00457f;border-top:0;font-size:8px;line-height:17.8px;background:#fff">PM2.5</div>
<div style="position:absolute;left:54.9px;top:51.6px;width:26.9px;height:18.2px;box-sizing:border-box;border-bottom:.7px solid #00457f;border-right:.5px solid #00457f;background:#ff0000;color:#fff;font-weight:bold;font-size:7.6px;line-height:17.8px">179</div>
</div>
<div class="abs" style="left:223.5px;top:134.6px;width:20px;height:8px;overflow:hidden"><div style="position:absolute;left:5.6px;top:-5.2px;width:8.8px;height:8.8px;border-radius:0 0 1.5px 0;background:#fff;transform:rotate(45deg);box-shadow:0 1.4px 5px rgba(0,0,0,.4)"></div></div>

<!-- right panel -->
<div class="abs sel-h" style="left:440.5px;top:1.7px;width:191.5px;height:21.3px">Select a City</div>
<div class="abs sel-b" style="left:440.5px;top:23.3px;width:191.5px;height:20px">Bishkek<span class="x">X</span><span class="c"></span></div>
<div class="abs sel-h" style="left:440.5px;top:56px;width:191.5px;height:20.6px">Select a Parameter</div>
<div class="abs sel-b" style="left:440.5px;top:76.8px;width:191.5px;height:20.5px">PM2.5<span class="x">X</span><span class="c"></span></div>
<div class="abs" style="left:440.5px;top:109.3px;width:191.5px;height:41.5px;box-sizing:border-box;background:#fff;border:.6px solid #ccc">
<div style="position:absolute;left:6px;top:6.3px;font-size:7.6px;font-weight:bold;line-height:8px;color:#333">Bishkek</div>
<svg style="position:absolute;left:164.8px;top:14px" width="20.3" height="20.3" viewBox="0 0 20 20"><rect width="20" height="20" fill="#f0a830"/><circle cx="5.3" cy="14.7" r="1.9" fill="#fff"/><path d="M3.4 8.6a8 8 0 0 1 8 8M3.4 4.2a12.4 12.4 0 0 1 12.4 12.4" fill="none" stroke="#fff" stroke-width="2.4"/></svg>
</div>
<div class="abs" style="left:440.5px;top:157px;width:195px;font-size:6.25px;line-height:11px;color:#6c6c6c;white-space:nowrap">Note: Values above 500 are considered Beyond the AQI. Follow<br>recommendations for the Hazardous category. Additional information<br>on reducing exposure to extremely high levels of particle pollution is<br>available <b style="color:#00457f;text-decoration:underline">here</b>.</div>

<!-- tabs -->
<div class="abs tab" style="left:21px;width:60.8px;background:#fff;border:.6px solid #aaa;border-top:2.2px solid #0d4d8a;border-bottom:0;color:#333;line-height:16.2px;height:17.5px;border-radius:2.5px 2.5px 0 0">AQI</div>
<div class="abs tab" style="left:84px;width:94px">Concentration</div>
<div class="abs tab" style="left:181px;width:78px">Historical</div>
<div class="abs" style="left:21px;top:286px;width:611px;height:.7px;background:#b5b5b5"></div>
<div class="abs" style="left:21px;top:294px;font-size:8px;line-height:10px;white-space:nowrap;color:#333">Learn more about how the Air Quality Index [AQI] is calculated from the EPA <b style="color:#00457f;text-decoration:underline">here</b>.</div>

<!-- chart -->
<div class="abs" style="left:21.4px;top:315.5px;width:457.2px;height:190px;background:#fff">
<svg width="457.2" height="190" viewBox="0 0 457.2 190" style="position:absolute;left:0;top:0">
<style>.yl{font:5.8px "DejaVu Sans",Verdana,sans-serif;fill:#222}.xl{font:5.9px "DejaVu Sans",Verdana,sans-serif;fill:#444}</style>
<text x="229.1" y="13.0" text-anchor="middle" style="font:10.2px 'DejaVu Sans',Verdana,sans-serif;fill:#444">Bishkek – PM2.5</text>
<text transform="translate(16.4,85.5) rotate(-90)" text-anchor="middle" style="font:6.8px 'DejaVu Sans',Verdana,sans-serif;fill:#000">AQI</text>
<line x1="41.9" x2="452.7" y1="139.60" y2="139.60" stroke="#c8d2e6" stroke-width=".7"/>
<text x="34.0" y="140.5" text-anchor="end" class="yl">0</text>
<line x1="41.9" x2="452.7" y1="118.70" y2="118.70" stroke="#dcdcdc" stroke-width=".7"/>
<text x="34.0" y="119.6" text-anchor="end" class="yl">100</text>
<line x1="41.9" x2="452.7" y1="97.80" y2="97.80" stroke="#dcdcdc" stroke-width=".7"/>
<text x="34.0" y="98.7" text-anchor="end" class="yl">200</text>
<line x1="41.9" x2="452.7" y1="76.90" y2="76.90" stroke="#dcdcdc" stroke-width=".7"/>
<text x="34.0" y="77.8" text-anchor="end" class="yl">300</text>
<line x1="41.9" x2="452.7" y1="56.00" y2="56.00" stroke="#dcdcdc" stroke-width=".7"/>
<text x="34.0" y="56.9" text-anchor="end" class="yl">400</text>
<line x1="41.9" x2="452.7" y1="35.10" y2="35.10" stroke="#dcdcdc" stroke-width=".7"/>
<text x="34.0" y="36.0" text-anchor="end" class="yl">500</text>
<rect x="46.06" y="110.34" width="8.8" height="29.26" fill="#ff7e00" stroke="#222" stroke-width=".6"/>
<line x1="41.90" x2="41.90" y1="139.60" y2="144.10" stroke="#c8d2e6" stroke-width=".6"/>
<text transform="translate(53.46,148.60) rotate(-45)" text-anchor="end" class="xl">7 PM</text>
<rect x="63.17" y="110.34" width="8.8" height="29.26" fill="#ff7e00" stroke="#222" stroke-width=".6"/>
<line x1="59.02" x2="59.02" y1="139.60" y2="144.10" stroke="#c8d2e6" stroke-width=".6"/>
<text transform="translate(70.57,148.60) rotate(-45)" text-anchor="end" class="xl">8 PM</text>
<rect x="80.29" y="108.46" width="8.8" height="31.14" fill="#ff7e00" stroke="#222" stroke-width=".6"/>
<line x1="76.13" x2="76.13" y1="139.60" y2="144.10" stroke="#c8d2e6" stroke-width=".6"/>
<text transform="translate(87.69,148.60) rotate(-45)" text-anchor="end" class="xl">9 PM</text>
<rect x="97.41" y="107.83" width="8.8" height="31.77" fill="#ff0000" stroke="#222" stroke-width=".6"/>
<line x1="93.25" x2="93.25" y1="139.60" y2="144.10" stroke="#c8d2e6" stroke-width=".6"/>
<text transform="translate(104.81,148.60) rotate(-45)" text-anchor="end" class="xl">10 PM</text>
<rect x="114.52" y="107.83" width="8.8" height="31.77" fill="#ff0000" stroke="#222" stroke-width=".6"/>
<line x1="110.37" x2="110.37" y1="139.60" y2="144.10" stroke="#c8d2e6" stroke-width=".6"/>
<text transform="translate(121.92,148.60) rotate(-45)" text-anchor="end" class="xl">11 PM</text>
<rect x="131.64" y="107.41" width="8.8" height="32.19" fill="#ff0000" stroke="#222" stroke-width=".6"/>
<line x1="127.48" x2="127.48" y1="139.60" y2="144.10" stroke="#c8d2e6" stroke-width=".6"/>
<text transform="translate(139.04,148.60) rotate(-45)" text-anchor="end" class="xl">Dec 28, 2021 12 AM</text>
<rect x="148.76" y="106.16" width="8.8" height="33.44" fill="#ff0000" stroke="#222" stroke-width=".6"/>
<line x1="144.60" x2="144.60" y1="139.60" y2="144.10" stroke="#c8d2e6" stroke-width=".6"/>
<text transform="translate(156.16,148.60) rotate(-45)" text-anchor="end" class="xl">1 AM</text>
<rect x="165.88" y="105.53" width="8.8" height="34.07" fill="#ff0000" stroke="#222" stroke-width=".6"/>
<line x1="161.72" x2="161.72" y1="139.60" y2="144.10" stroke="#c8d2e6" stroke-width=".6"/>
<text transform="translate(173.28,148.60) rotate(-45)" text-anchor="end" class="xl">2 AM</text>
<rect x="182.99" y="104.49" width="8.8" height="35.11" fill="#ff0000" stroke="#222" stroke-width=".6"/>
<line x1="178.83" x2="178.83" y1="139.60" y2="144.10" stroke="#c8d2e6" stroke-width=".6"/>
<text transform="translate(190.39,148.60) rotate(-45)" text-anchor="end" class="xl">3 AM</text>
<rect x="200.11" y="105.12" width="8.8" height="34.49" fill="#ff0000" stroke="#222" stroke-width=".6"/>
<line x1="195.95" x2="195.95" y1="139.60" y2="144.10" stroke="#c8d2e6" stroke-width=".6"/>
<text transform="translate(207.51,148.60) rotate(-45)" text-anchor="end" class="xl">4 AM</text>
<rect x="217.22" y="107.21" width="8.8" height="32.39" fill="#ff0000" stroke="#222" stroke-width=".6"/>
<line x1="213.07" x2="213.07" y1="139.60" y2="144.10" stroke="#c8d2e6" stroke-width=".6"/>
<text transform="translate(224.62,148.60) rotate(-45)" text-anchor="end" class="xl">5 AM</text>
<rect x="234.34" y="110.76" width="8.8" height="28.84" fill="#ff7e00" stroke="#222" stroke-width=".6"/>
<line x1="230.18" x2="230.18" y1="139.60" y2="144.10" stroke="#c8d2e6" stroke-width=".6"/>
<text transform="translate(241.74,148.60) rotate(-45)" text-anchor="end" class="xl">6 AM</text>
<rect x="251.46" y="115.98" width="8.8" height="23.62" fill="#ff7e00" stroke="#222" stroke-width=".6"/>
<line x1="247.30" x2="247.30" y1="139.60" y2="144.10" stroke="#c8d2e6" stroke-width=".6"/>
<text transform="translate(258.86,148.60) rotate(-45)" text-anchor="end" class="xl">7 AM</text>
<rect x="268.58" y="119.75" width="8.8" height="19.86" fill="#ffff00" stroke="#222" stroke-width=".6"/>
<line x1="264.42" x2="264.42" y1="139.60" y2="144.10" stroke="#c8d2e6" stroke-width=".6"/>
<text transform="translate(275.98,148.60) rotate(-45)" text-anchor="end" class="xl">8 AM</text>
<rect x="285.69" y="121.42" width="8.8" height="18.18" fill="#ffff00" stroke="#222" stroke-width=".6"/>
<line x1="281.53" x2="281.53" y1="139.60" y2="144.10" stroke="#c8d2e6" stroke-width=".6"/>
<text transform="translate(293.09,148.60) rotate(-45)" text-anchor="end" class="xl">9 AM</text>
<rect x="302.81" y="121.42" width="8.8" height="18.18" fill="#ffff00" stroke="#222" stroke-width=".6"/>
<line x1="298.65" x2="298.65" y1="139.60" y2="144.10" stroke="#c8d2e6" stroke-width=".6"/>
<text transform="translate(310.21,148.60) rotate(-45)" text-anchor="end" class="xl">10 AM</text>
<rect x="319.93" y="119.33" width="8.8" height="20.27" fill="#ffff00" stroke="#222" stroke-width=".6"/>
<line x1="315.77" x2="315.77" y1="139.60" y2="144.10" stroke="#c8d2e6" stroke-width=".6"/>
<text transform="translate(327.33,148.60) rotate(-45)" text-anchor="end" class="xl">11 AM</text>
<rect x="337.04" y="120.37" width="8.8" height="19.23" fill="#ffff00" stroke="#222" stroke-width=".6"/>
<line x1="332.88" x2="332.88" y1="139.60" y2="144.10" stroke="#c8d2e6" stroke-width=".6"/>
<text transform="translate(344.44,148.60) rotate(-45)" text-anchor="end" class="xl">12 PM</text>
<rect x="354.16" y="117.45" width="8.8" height="22.15" fill="#ff7e00" stroke="#222" stroke-width=".6"/>
<line x1="350.00" x2="350.00" y1="139.60" y2="144.10" stroke="#c8d2e6" stroke-width=".6"/>
<text transform="translate(361.56,148.60) rotate(-45)" text-anchor="end" class="xl">1 PM</text>
<rect x="371.28" y="117.45" width="8.8" height="22.15" fill="#ff7e00" stroke="#222" stroke-width=".6"/>
<line x1="367.12" x2="367.12" y1="139.60" y2="144.10" stroke="#c8d2e6" stroke-width=".6"/>
<text transform="translate(378.68,148.60) rotate(-45)" text-anchor="end" class="xl">2 PM</text>
<rect x="388.39" y="114.73" width="8.8" height="24.87" fill="#ff7e00" stroke="#222" stroke-width=".6"/>
<line x1="384.23" x2="384.23" y1="139.60" y2="144.10" stroke="#c8d2e6" stroke-width=".6"/>
<text transform="translate(395.79,148.60) rotate(-45)" text-anchor="end" class="xl">3 PM</text>
<rect x="405.51" y="113.06" width="8.8" height="26.54" fill="#ff7e00" stroke="#222" stroke-width=".6"/>
<line x1="401.35" x2="401.35" y1="139.60" y2="144.10" stroke="#c8d2e6" stroke-width=".6"/>
<text transform="translate(412.91,148.60) rotate(-45)" text-anchor="end" class="xl">4 PM</text>
<rect x="422.63" y="104.49" width="8.8" height="35.11" fill="#ff0000" stroke="#222" stroke-width=".6"/>
<line x1="418.47" x2="418.47" y1="139.60" y2="144.10" stroke="#c8d2e6" stroke-width=".6"/>
<text transform="translate(430.03,148.60) rotate(-45)" text-anchor="end" class="xl">5 PM</text>
<rect x="439.74" y="102.19" width="8.8" height="37.41" fill="#ff0000" stroke="#222" stroke-width=".6"/>
<line x1="435.58" x2="435.58" y1="139.60" y2="144.10" stroke="#c8d2e6" stroke-width=".6"/>
<text transform="translate(447.14,148.60) rotate(-45)" text-anchor="end" class="xl">6 PM</text>
</svg></div>

<!-- current conditions -->
<div class="abs" style="left:488px;top:315.5px;width:144.2px;height:181px;box-sizing:border-box;border:.6px solid #00457f;background:#eee">
<div style="position:absolute;left:0;right:0;top:0;height:42.3px;background:#00457f;color:#fff;text-align:center;font-weight:bold">
<div style="position:absolute;left:0;right:0;top:3px;font-size:8.5px;line-height:10px">Current Conditions</div>
<div style="position:absolute;left:0;right:0;top:16px;font-size:6.5px;line-height:9px">observed at</div>
<div style="position:absolute;left:0;right:0;top:27.2px;font-size:8.55px;line-height:10px">Dec 28, 2021 6:00 PM (LT)</div>
</div>
<div style="position:absolute;left:0;right:0;top:42.3px;height:66px;background:#ff0000;color:#fff;text-align:center;font-weight:bold;font-size:10.6px;line-height:16px">
<div style="position:absolute;left:0;right:0;top:9px">179 AQI<br>Unhealthy<br>PM2.5</div></div>
<div style="position:absolute;left:0;right:0;top:114.2px;text-align:center;font-weight:bold;font-size:6.6px;line-height:8px;color:#222">Health Message</div>
<div style="position:absolute;left:3.5px;top:127.5px;font-size:6.85px;line-height:12.3px;color:#333;white-space:nowrap">Everyone may begin to experience health<br>effects when AQI values are between 151<br>and 200. Members of sensitive groups may<br>experience more serious health effects.</div>
</div>
</body></html>
